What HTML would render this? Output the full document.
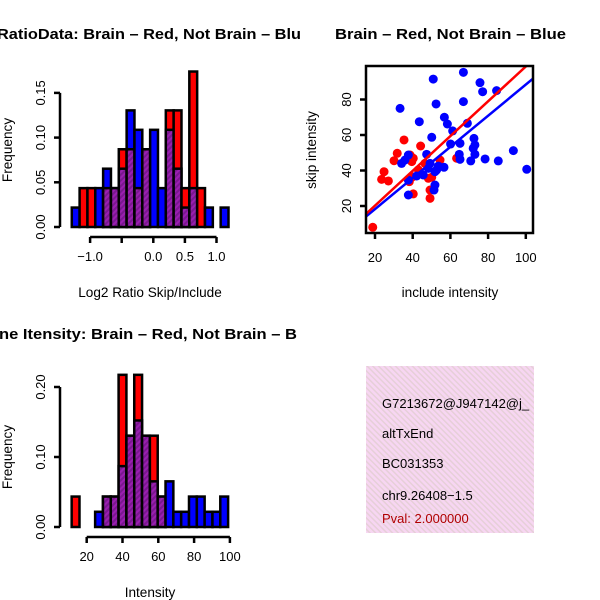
<!DOCTYPE html>
<html><head><meta charset="utf-8"><style>
html,body{margin:0;padding:0;background:#fff;}
svg{display:block;font-family:"Liberation Sans",Arial,sans-serif;}
</style></head><body>
<svg id="chart" width="600" height="600" viewBox="0 0 600 600" xmlns="http://www.w3.org/2000/svg">
<defs>
<pattern id="purp" patternUnits="userSpaceOnUse" width="4" height="4" patternTransform="rotate(45)">
<rect width="4" height="4" fill="#9a1fb0"/><rect width="2" height="4" fill="#7a1890"/>
</pattern>
<pattern id="pink" patternUnits="userSpaceOnUse" width="4" height="4" patternTransform="rotate(-45)">
<rect width="4" height="4" fill="#f7d6f2"/><rect width="1.5" height="4" fill="#e6cfd8"/>
</pattern>
<clipPath id="clipL"><rect x="0" y="0" width="300" height="600"/></clipPath>
<clipPath id="clipSc"><rect x="366" y="66" width="167" height="167"/></clipPath>
<clipPath id="clipBox"><rect x="366" y="366" width="168" height="167"/></clipPath>
</defs>
<g id="g1"></g><g id="g2"></g><g id="g3"></g>
<g>
<rect x="366" y="366" width="168" height="167" fill="url(#pink)"/>
<g clip-path="url(#clipBox)" font-size="13">
<text x="382" y="408">G7213672@J947142@j_</text>
<text x="382" y="438">altTxEnd</text>
<text x="382" y="468">BC031353</text>
<text x="382" y="500">chr9.26408−1.5</text>
<text x="382" y="523" fill="#b00000">Pval: 2.000000</text>
</g></g>
</svg>
<script>
// Histogram 1 (log2 ratio) counts per bin
const h1Red  = [0,2,2,0,2,2,4,4,2,4,0,0,6,6,2,8,2,0,0,0];
const h1Blue = [1,0,0,2,3,2,3,6,5,4,5,2,5,3,1,2,0,1,0,1];
const h1Start = -1.29, h1Width = 0.124;
const h1XTicks = [-1.0, -0.5, 0.0, 0.5, 1.0];
const h1XLabels = ["−1.0", "", "0.0", "0.5", "1.0"];
const h1YTicks = [0, 0.05, 0.10, 0.15];
const h1YLabels = ["0.00","0.05","0.10","0.15"];
// Histogram 2 (intensity)
const h2Red  = [2,0,0,0,2,2,10,6,10,6,6,2,0,0,0,0,0,0,0,0];
const h2Blue = [0,0,0,1,2,2,4,6,7,6,3,2,3,1,1,2,2,1,1,2];
const h2Start = 11.6, h2Width = 4.37;
const h2XTicks = [20,40,60,80,100];
const h2YTicks = [0,0.10,0.20];
const h2YLabels = ["0.00","0.10","0.20"];
// Scatter
const redX = [35.4,44.2,31.8,30.1,40.3,38.6,24.8,23.5,27.1,38.2,40.0,50.1,48.3,49.2,40.3,49.2,63.3,18.8,46.5,43.0,54.5,39.5];
const redY = [57.2,53.8,49.7,45.5,46.9,48.7,39.3,35.0,34.1,33.7,36.5,36.2,35.6,29.0,26.8,24.3,46.9,8.0,44.0,40.3,45.9,45.0];
const blueX = [50.9,66.9,75.7,77.1,84.5,33.3,52.4,66.9,43.5,56.8,58.4,69.0,61.2,50.1,72.5,73.0,65.1,60.1,93.4,64.7,65.1,73.0,78.4,85.4,70.8,100.5,37.7,35.9,34.1,47.4,49.2,53.6,56.6,51.8,45.6,42.1,37.7,51.8,51.3,37.7,48.3,52.7,72.1];
const blueY = [91.5,95.3,89.5,84.4,85.0,75.0,77.5,78.8,67.5,70.0,66.2,66.6,62.3,58.7,58.1,54.4,55.3,54.9,51.2,49.1,46.3,49.1,46.5,45.4,45.4,40.7,48.7,45.9,44.0,49.1,44.0,42.5,41.8,39.3,37.5,36.9,34.6,31.8,29.0,26.2,41.2,40.3,52.5];
const redFit = [0.6, 0.98];   // intercept, slope
const blueFit = [0.7, 0.877];
const scXTicks = [20,40,60,80,100];
const scYTicks = [20,40,60,80];

const NS="http://www.w3.org/2000/svg";
function mk(parent, tag, attrs, txt){const e=document.createElementNS(NS,tag);for(const k in attrs)e.setAttribute(k,attrs[k]);if(txt!==undefined)e.textContent=txt;parent.appendChild(e);return e;}

function hist(g, red, blue, start, width, xs, ys, n, kind){
  for(let i=0;i<red.length;i++){
    const x0=xs(start+i*width), x1=xs(start+(i+1)*width);
    const r=red[i], b=blue[i], m=Math.min(r,b), M=Math.max(r,b);
    if(M===0) continue;
    const col = r>b ? "#ff0000" : "#0000ff";
    const top = mk(g,"rect",{x:x0,y:ys(M/n),width:x1-x0,height:ys(0)-ys(M/n),fill:col,stroke:"#000","stroke-width":2.5});
    
    
    if(m>0){
      const p = mk(g,"rect",{x:x0,y:ys(m/n),width:x1-x0,height:ys(0)-ys(m/n),fill:"url(#purp)",stroke:"#000","stroke-width":2.5});
      
      
    }
  }
}
function axes(g, xt, xl, xs, xy, yt, yl, ys, yx, fs){
  const xa=mk(g,"line",{x1:xs(xt[0]),x2:xs(xt[xt.length-1]),y1:xy,y2:xy,stroke:"#000","stroke-width":2.5});
  
  
  xt.forEach((t,i)=>{
    mk(g,"line",{x1:xs(t),x2:xs(t),y1:xy,y2:xy+6,stroke:"#000","stroke-width":2.5});
    const tl=mk(g,"text",{x:xs(t),y:xy+24,"text-anchor":"middle","font-size":fs},xl[i]);
    
    
  });
  const ya=mk(g,"line",{x1:yx,x2:yx,y1:ys(yt[0]),y2:ys(yt[yt.length-1]),stroke:"#000","stroke-width":2.5});
  
  
  yt.forEach((t,i)=>{
    mk(g,"line",{x1:yx-6,x2:yx,y1:ys(t),y2:ys(t),stroke:"#000","stroke-width":2.5});
    const tl=mk(g,"text",{x:yx-15,y:ys(t),"text-anchor":"middle","font-size":fs,transform:`rotate(-90 ${yx-15} ${ys(t)})`},yl[i]);
    
    
  });
}
function label(g,txt,x,y,rot,name,size,bold,len,clip){
  const a={x:x,y:y,"font-size":size||13.6,"text-anchor":"middle"};
  if(rot) a.transform=`rotate(-90 ${x} ${y})`;
  if(bold) a["font-weight"]="bold";
  if(len){a.textLength=len;a.lengthAdjust="spacingAndGlyphs";}
  if(clip){a["clip-path"]="url(#clipL)";a["text-anchor"]="start";}
  const t=mk(g,"text",a,txt);
  
  
}

// Panel 1
const g1=document.getElementById("g1");


const xs1=v=>153.3+63.2*v, ys1=f=>227-f*894;
hist(g1,h1Red,h1Blue,h1Start,h1Width,xs1,ys1,46,'ratio');
axes(g1,h1XTicks,h1XLabels,xs1,237,h1YTicks,h1YLabels,ys1,60,13);
label(g1,"Log2 Ratio Skip/Include",150,297,false,"x-axis-title");
label(g1,"Frequency",12,150,true,"y-axis-title");
label(g1,"RatioData: Brain – Red, Not Brain – Blu",-3,39,false,"ratio-title",14.5,true,304,true);

// Panel 2 scatter
const g2=document.getElementById("g2");


const xs2=v=>375+(v-20)*1.885, ys2=v=>206-(v-20)*1.775;
const pts=mk(g2,"g",{"clip-path":"url(#clipSc)"});
redX.forEach((x,i)=>{const c=mk(pts,"circle",{cx:xs2(x),cy:ys2(redY[i]),r:4.5,fill:"#ff0000"});
  
  });
blueX.forEach((x,i)=>{const c=mk(pts,"circle",{cx:xs2(x),cy:ys2(blueY[i]),r:4.5,fill:"#0000ff"});
  
  });
[[blueFit,"#0000ff","blue-fit-line"],[redFit,"#ff0000","red-fit-line"]].forEach(([f,c,n])=>{
  const l=mk(pts,"line",{x1:xs2(0),y1:ys2(f[0]),x2:xs2(120),y2:ys2(f[0]+f[1]*120),stroke:c,"stroke-width":2.5});
  
  
});
const box=mk(g2,"rect",{x:366,y:66,width:167,height:167,fill:"none",stroke:"#000","stroke-width":2.5});


scXTicks.forEach(t=>{mk(g2,"line",{x1:xs2(t),x2:xs2(t),y1:233,y2:239,stroke:"#000","stroke-width":2.5});
  const tl=mk(g2,"text",{x:xs2(t),y:262,"text-anchor":"middle","font-size":13},String(t));
  
  });
scYTicks.forEach(t=>{mk(g2,"line",{x1:360,x2:366,y1:ys2(t),y2:ys2(t),stroke:"#000","stroke-width":2.5});
  const tl=mk(g2,"text",{x:351,y:ys2(t),"text-anchor":"middle","font-size":13,transform:`rotate(-90 351 ${ys2(t)})`},String(t));
  
  });
label(g2,"include intensity",450,297,false,"x-axis-title");
label(g2,"skip intensity",316,150,true,"y-axis-title");
label(g2,"Brain – Red, Not Brain – Blue",450.5,39,false,"scatter-title",14.5,true,231);

// Panel 3
const g3=document.getElementById("g3");


const xs3=v=>86.7+(v-20)*1.79, ys3=f=>527-f*700;
hist(g3,h2Red,h2Blue,h2Start,h2Width,xs3,ys3,46,'intensity');
axes(g3,h2XTicks,h2XTicks.map(String),xs3,537,h2YTicks,h2YLabels,ys3,60,13);
label(g3,"Intensity",150,597,false,"x-axis-title");
label(g3,"Frequency",12,457,true,"y-axis-title");
label(g3,"ne Itensity: Brain – Red, Not Brain – B",-1,339,false,"intensity-title",14.5,true,298,true);
</script>
</body></html>
